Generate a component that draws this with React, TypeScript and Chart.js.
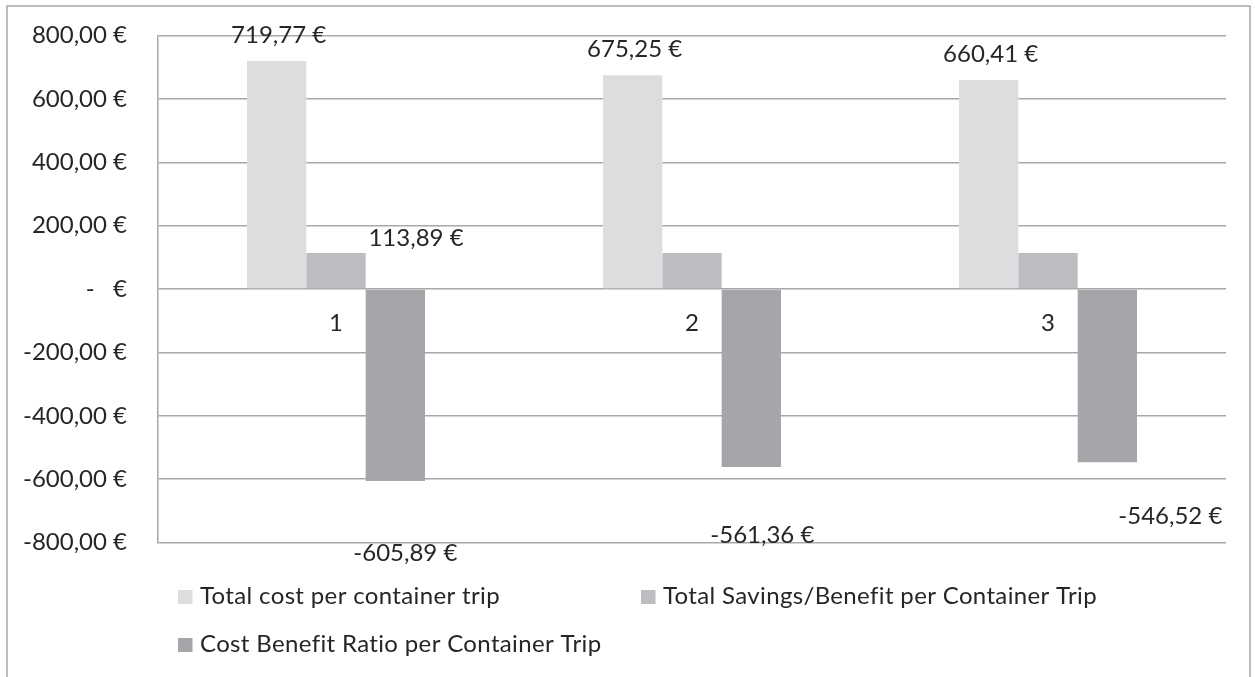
import React, { useEffect, useRef } from 'react';
import { Chart, registerables } from 'chart.js';

Chart.register(...registerables);

// Trip scenarios shown along the horizontal axis
const categories = ['1', '2', '3'];

const seriesNames = [
  'Total cost per container trip',
  'Total Savings/Benefit per Container Trip',
  'Cost Benefit Ratio per Container Trip',
];

// Euro amounts per scenario
const totalCost = [719.77, 675.25, 660.41];
const totalSavings = [113.89, 113.89, 113.89];
const costBenefitRatio = [-605.89, -561.36, -546.52];

const yMin = -800;
const yMax = 800;
const yStep = 200;

const seriesColors = ['#dcdddf', '#bcbdc0', '#a5a6a9'];
const textColor = '#262626';
const lineColor = '#a8a8a8';
const fontFamily = 'Lato, "Open Sans", sans-serif';
const fontSize = 24;

// Offsets (px) of each value label from the end of its bar; null = label hidden
const valueLabelNudges: (number[] | null)[][] = [
  [[2, -18], [2, -18], [2, -18]],
  [[80, -7], null, null],
  [[10, 80], [11, 76.5], [63, 62]],
];

const euro = (v: number) =>
  v === 0 ? '-   €' : `${v.toFixed(2).replace('.', ',')} €`;

const framePlugin = {
  id: 'frame',
  beforeDraw(chart: any) {
    const { ctx, width, height } = chart;
    ctx.save();
    ctx.fillStyle = '#ffffff';
    ctx.fillRect(0, 0, width, height);
    ctx.strokeStyle = lineColor;
    ctx.lineWidth = 1.5;
    ctx.strokeRect(7, 6, 1243, 800);
    ctx.restore();
  },
};

const valueLabelPlugin = {
  id: 'valueLabels',
  afterDatasetsDraw(chart: any) {
    const { ctx } = chart;
    ctx.save();
    ctx.font = `${fontSize}px ${fontFamily}`;
    ctx.fillStyle = textColor;
    ctx.textAlign = 'center';
    ctx.textBaseline = 'alphabetic';
    chart.data.datasets.forEach((ds: any, di: number) => {
      const meta = chart.getDatasetMeta(di);
      meta.data.forEach((bar: any, i: number) => {
        const n = valueLabelNudges[di][i];
        if (!n) return;
        ctx.fillText(euro(ds.data[i]), bar.x + n[0], bar.y + n[1]);
      });
    });
    ctx.restore();
  },
};

const legendPlugin = {
  id: 'bottomLegend',
  afterDraw(chart: any) {
    const { ctx, chartArea } = chart;
    const left = chartArea.left + 20;
    const colWidth = 463;
    const rowHeight = 48;
    const firstBaseline = chartArea.bottom + 61.5;
    const slots = [
      [0, 0],
      [1, 0],
      [0, 1],
    ];
    ctx.save();
    ctx.font = `${fontSize}px ${fontFamily}`;
    ctx.textAlign = 'left';
    ctx.textBaseline = 'alphabetic';
    // a touch of tracking; also keeps "fi" as two separate glyphs
    (ctx as any).letterSpacing = '0.35px';
    chart.data.datasets.forEach((ds: any, di: number) => {
      const [col, row] = slots[di];
      const x = left + col * colWidth;
      const base = firstBaseline + row * rowHeight;
      ctx.fillStyle = ds.backgroundColor;
      ctx.fillRect(x, base - 14, 14.5, 14);
      ctx.fillStyle = textColor;
      ctx.fillText(ds.label, x + 22, base);
    });
    ctx.restore();
  },
};

export default function App() {
  const canvasRef = useRef<HTMLCanvasElement | null>(null);

  useEffect(() => {
    const canvas = canvasRef.current;
    if (!canvas) return;
    const values = [totalCost, totalSavings, costBenefitRatio];
    const chart = new Chart(canvas, {
      type: 'bar',
      data: {
        labels: categories,
        datasets: seriesNames.map((name, i) => ({
          label: name,
          data: values[i],
          backgroundColor: seriesColors[i],
          borderWidth: 0,
          barPercentage: 1,
          categoryPercentage: 0.5,
        })),
      },
      options: {
        responsive: false,
        animation: false,
        layout: {
          padding: { left: 0, right: 29, top: 35.7, bottom: 134.5 },
        },
        plugins: {
          legend: { display: false },
          tooltip: { enabled: false },
        },
        scales: {
          x: {
            position: { y: 0 } as any,
            grid: { display: false, drawTicks: false },
            border: { display: false },
            ticks: {
              color: textColor,
              font: { family: fontFamily, size: fontSize },
              padding: 20,
            },
          },
          y: {
            min: yMin,
            max: yMax,
            afterFit(scale: any) {
              scale.width = 158;
            },
            // invisible tick marks keep the labels clear of the axis line
            grid: {
              color: lineColor,
              lineWidth: 1.5,
              drawTicks: true,
              tickLength: 31,
              tickColor: 'rgba(0,0,0,0)',
            },
            border: { display: true, color: lineColor, width: 1.5 },
            ticks: {
              stepSize: yStep,
              color: textColor,
              font: { family: fontFamily, size: fontSize },
              padding: 0,
              callback: (v: any) => euro(Number(v)),
            },
          },
        },
      },
      plugins: [framePlugin, valueLabelPlugin, legendPlugin],
    });
    return () => chart.destroy();
  }, []);

  return (
    <div style={{ position: 'fixed', left: 0, top: 0, width: 1255, height: 677, background: '#fff' }}>
      <canvas ref={canvasRef} width={1255} height={677} style={{ display: 'block' }} />
    </div>
  );
}
